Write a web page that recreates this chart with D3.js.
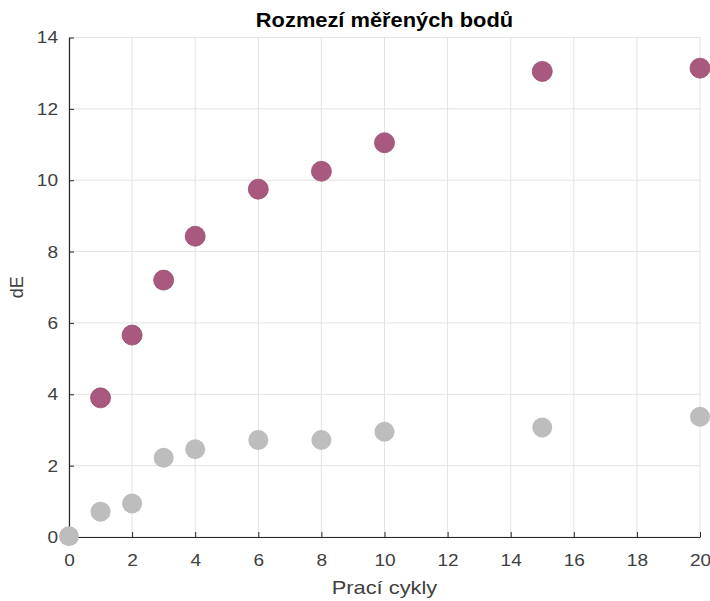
<!DOCTYPE html>
<html>
<head>
<meta charset="utf-8">
<script src="https://cdn.jsdelivr.net/npm/d3@7"></script>
<style>
  html, body { margin: 0; padding: 0; background: #fff; }
  svg { display: block; }
  text { font-family: "Liberation Sans", Arial, sans-serif; }
</style>
</head>
<body>
<svg id="chart" width="710" height="601"></svg>
<script>
// Measured points: wash cycles vs. colour difference dE
const cycles   = [0, 1, 2, 3, 4, 6, 8, 10, 15, 20];
const dEUpper  = [null, 3.9, 5.66, 7.2, 8.43, 9.75, 10.25, 11.05, 13.05, 13.14];
const dELower  = [0.02, 0.71, 0.94, 2.22, 2.46, 2.72, 2.72, 2.95, 3.07, 3.37];
const xTicks   = [0, 2, 4, 6, 8, 10, 12, 14, 16, 18, 20];
const yTicks   = [0, 2, 4, 6, 8, 10, 12, 14];
const titleText = "Rozmezí měřených bodů";
const xLabel    = "Prací cykly";
const yLabel    = "dE";

const svg = d3.select("#chart");
const margin = { left: 69, right: 10, top: 37.5, bottom: 64 };
const W = 710, H = 601;

const x = d3.scaleLinear().domain([0, 20]).range([margin.left, W - margin.right]);
const y = d3.scaleLinear().domain([0, 14]).range([H - margin.bottom, margin.top]);

// widen a text element horizontally while keeping its anchor
function widen(sel, k) {
  sel.each(function () {
    const len = this.getComputedTextLength();
    d3.select(this).attr("textLength", len * k).attr("lengthAdjust", "spacingAndGlyphs");
  });
}

// grid
const grid = svg.append("g");
grid.selectAll("line.gx").data(xTicks).join("line")
  .attr("x1", d => x(d)).attr("x2", d => x(d))
  .attr("y1", y(0)).attr("y2", y(14))
  .attr("stroke", "#e3e3e3").attr("stroke-width", 1);
grid.selectAll("line.gy").data(yTicks).join("line")
  .attr("y1", d => y(d)).attr("y2", d => y(d))
  .attr("x1", x(0)).attr("x2", x(20))
  .attr("stroke", "#e3e3e3").attr("stroke-width", 1);

// axes with inward ticks
const axisColor = "#262626";
const xAxis = svg.append("g")
  .attr("transform", `translate(0,${y(0)})`)
  .call(d3.axisBottom(x).tickValues(xTicks).tickSizeInner(-5).tickSizeOuter(0).tickPadding(17));
const yAxis = svg.append("g")
  .attr("transform", `translate(${x(0)},0)`)
  .call(d3.axisLeft(y).tickValues(yTicks).tickSizeInner(-5).tickSizeOuter(0).tickPadding(11));
[xAxis, yAxis].forEach(a => {
  a.select(".domain").attr("stroke", axisColor).attr("stroke-width", 1.2);
  a.selectAll(".tick line").attr("stroke", axisColor);
  a.selectAll(".tick text").attr("fill", "#404040")
    .style("font-size", "17px").style("font-family", "'Liberation Sans', Arial, sans-serif")
    .call(widen, 1.12);
});

// markers
svg.append("g").selectAll("circle").data(cycles.map((c, i) => [c, dELower[i]]))
  .join("circle")
  .attr("cx", d => x(d[0])).attr("cy", d => y(d[1])).attr("r", 10)
  .attr("fill", "#bdbdbd");
svg.append("g").selectAll("circle")
  .data(cycles.map((c, i) => [c, dEUpper[i]]).filter(d => d[1] !== null))
  .join("circle")
  .attr("cx", d => x(d[0])).attr("cy", d => y(d[1])).attr("r", 10)
  .attr("fill", "#a8597d").attr("stroke", "#974a6d").attr("stroke-width", 0.8);

// title and labels
svg.append("text")
  .attr("x", (x(0) + x(20)) / 2).attr("y", 26.5)
  .attr("text-anchor", "middle").attr("font-weight", "bold")
  .attr("font-size", 21).attr("fill", "#000")
  .text(titleText)
  .call(widen, 1.04);
svg.append("text")
  .attr("x", (x(0) + x(20)) / 2).attr("y", 594)
  .attr("text-anchor", "middle").attr("font-size", 19).attr("fill", "#404040")
  .text(xLabel)
  .call(widen, 1.15);
svg.append("text")
  .attr("transform", `translate(23,${(y(0) + y(14)) / 2}) rotate(-90)`)
  .attr("text-anchor", "middle").attr("font-size", 18).attr("fill", "#404040")
  .text(yLabel);
</script>
</body>
</html>
